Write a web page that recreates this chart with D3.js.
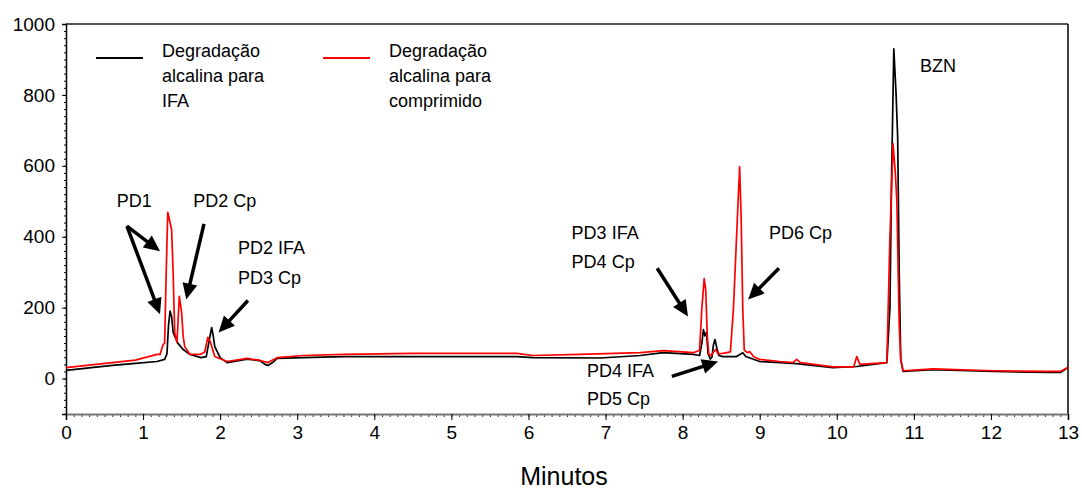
<!DOCTYPE html>
<html>
<head>
<meta charset="utf-8">
<script src="https://cdn.jsdelivr.net/npm/d3@7"></script>
<style>
    body { margin: 0; background: #fff; }
    svg text { font-family: "Liberation Sans", Arial, sans-serif; fill: #000; }
</style>
</head>
<body>
<div id="chart"></div>
<script>
'use strict';

// time (min) / response for the IFA run (black)
const ifaTime = [0, 0.3, 0.6, 0.9, 1.18, 1.28, 1.31, 1.33, 1.35, 1.37, 1.39, 1.45, 1.52, 1.61, 1.75, 1.82, 1.86, 1.89, 1.91, 1.93,
    2.0, 2.09, 2.35, 2.52, 2.58, 2.62, 2.68, 2.74, 3.08, 3.6, 4.5, 5.85, 6.06, 6.93, 7.45, 7.75, 8.14, 8.22, 8.25, 8.27,
    8.29, 8.31, 8.33, 8.36, 8.38, 8.40, 8.42, 8.44, 8.47, 8.52, 8.7, 8.78, 8.82, 9.0, 9.26, 9.48, 9.95, 10.26, 10.65, 10.69,
    10.71, 10.74, 10.77, 10.79, 10.81, 10.83, 10.86, 11.25, 12.03, 12.73, 12.9, 13.0];
const ifaValue = [23, 30, 37, 43, 48, 54, 70, 150, 190, 175, 130, 100, 82, 68, 59, 62, 110, 144, 120, 90,
    59, 45, 55, 50, 40, 37, 45, 57, 59, 62, 62, 62, 59, 58, 65, 73, 68, 65, 100, 138,
    120, 130, 70, 55, 60, 95, 110, 90, 65, 62, 62, 73, 62, 48, 45, 42, 31, 34, 45, 200,
    554, 930, 800, 681, 300, 54, 20, 25, 20, 17, 17, 31];

// time (min) / response for the comprimido run (red)
const cpTime = [0, 0.3, 0.6, 0.9, 1.18, 1.22, 1.26, 1.28, 1.30, 1.32, 1.35, 1.37, 1.39, 1.41, 1.44, 1.47, 1.50, 1.52, 1.54, 1.61,
    1.74, 1.80, 1.84, 1.87, 1.93, 2.09, 2.35, 2.52, 2.62, 2.74, 3.08, 3.6, 4.5, 5.85, 6.06, 6.67, 7.45, 7.75, 8.14, 8.22,
    8.25, 8.28, 8.30, 8.32, 8.34, 8.37, 8.40, 8.43, 8.46, 8.52, 8.62, 8.66, 8.72, 8.74, 8.76, 8.78, 8.80, 8.84, 8.87, 8.92,
    9.0, 9.26, 9.43, 9.48, 9.53, 9.95, 10.22, 10.26, 10.30, 10.65, 10.69, 10.73, 10.76, 10.78, 10.81, 10.83, 10.86, 11.25, 12.03, 12.73,
    12.9, 13.0];
const cpValue = [31, 38, 45, 52, 68, 68, 96, 100, 300, 469, 440, 421, 300, 130, 102, 232, 187, 120, 90, 68,
    68, 75, 116, 105, 62, 48, 57, 51, 45, 59, 65, 68, 71, 71, 65, 68, 73, 79, 73, 80,
    200, 282, 250, 120, 68, 65, 75, 82, 70, 71, 75, 200, 500, 597, 450, 200, 80, 73, 76, 62,
    54, 48, 45, 54, 45, 33, 33, 62, 40, 45, 401, 662, 580, 497, 150, 54, 22, 27, 22, 20,
    20, 31];

// axis ticks
const xTicks = d3.range(0, 14, 1);
const yTicks = [0, 200, 400, 600, 800, 1000];

// legend entries
const legendNames = [['Degradação', 'alcalina para', 'IFA'], ['Degradação', 'alcalina para', 'comprimido']];
const legendColors = ['#000000', '#ff0000'];

// peak labels (anchor in minutes / response)
const labelText = ['PD1', 'PD2 Cp', 'PD2 IFA', 'PD3 Cp', 'PD3 IFA', 'PD4 Cp', 'PD6 Cp', 'PD4 IFA', 'PD5 Cp', 'BZN'];
const labelTime = [0.66, 1.65, 2.23, 2.23, 6.56, 6.56, 9.12, 6.76, 6.76, 11.08];
const labelValue = [484, 484, 350, 266, 395, 311, 395, 5, -74, 866];

// arrows: tail -> tip
const arrowFrom = [[0.79, 430], [0.79, 430], [1.79, 436], [2.36, 220], [7.67, 311], [9.25, 311], [7.86, 6]];
const arrowTo = [[1.22, 359], [1.22, 181], [1.56, 223], [1.98, 130], [8.07, 175], [8.85, 223], [8.46, 48]];

class Chromatogram {

    constructor(_ref) {
        this.parent = _ref;

        // zip series
        this.ifa = ifaTime.map((t, i) => ({t: t, v: ifaValue[i]}));
        this.cp = cpTime.map((t, i) => ({t: t, v: cpValue[i]}));

        this.initVis();
    }

    initVis() {
        const vis = this;

        // Config
        vis.w = 1082;
        vis.h = 489;
        vis.margin = {top: 24, right: 14, bottom: 75, left: 66};
        vis.gW = vis.w - (vis.margin.left + vis.margin.right);
        vis.gH = vis.h - (vis.margin.top + vis.margin.bottom);

        vis.svg = d3.select(`#${vis.parent}`)
            .append('svg')
            .attr('width', vis.w)
            .attr('height', vis.h);

        vis.g = vis.svg.append('g')
            .attr('transform', `translate(${vis.margin.left},${vis.margin.top})`);

        // Scales
        vis.xScale = d3.scaleLinear()
            .domain([0, 13])
            .range([0, vis.gW]);

        vis.yScale = d3.scaleLinear()
            .domain([-100, 1000])
            .range([vis.gH, 0]);

        vis.drawAxes();
        vis.updateVis();
        vis.drawLegend();
        vis.drawNotes();
    }

    drawAxes() {
        const vis = this;

        // top + right frame
        vis.g.append('line')
            .attr('x1', 0).attr('x2', vis.gW)
            .attr('y1', 0).attr('y2', 0)
            .attr('stroke', '#555').attr('stroke-width', 2);
        vis.g.append('line')
            .attr('x1', vis.gW).attr('x2', vis.gW)
            .attr('y1', 0).attr('y2', vis.gH)
            .attr('stroke', '#000').attr('stroke-width', 1.5);

        // minor ticks x
        vis.g.append('g')
            .attr('transform', `translate(0,${vis.gH})`)
            .call(d3.axisBottom(vis.xScale).tickValues(d3.range(0, 131).map(d => d / 10)).tickSize(3).tickFormat(''))
            .call(g => g.select('.domain').remove())
            .selectAll('line').attr('stroke', '#333');

        // major x axis
        vis.xAxisG = vis.g.append('g')
            .attr('transform', `translate(0,${vis.gH})`)
            .call(d3.axisBottom(vis.xScale).tickValues(xTicks).tickSize(6).tickPadding(6).tickFormat(d3.format('d')));
        vis.xAxisG.select('.domain').attr('stroke', '#777').attr('stroke-width', 2);
        vis.xAxisG.selectAll('text').attr('font-size', 19);

        // minor ticks y
        vis.g.append('g')
            .call(d3.axisLeft(vis.yScale).tickValues(d3.range(-100, 1001, 20)).tickSize(2).tickFormat(''))
            .call(g => g.select('.domain').remove());

        // major y axis
        vis.yAxisG = vis.g.append('g')
            .call(d3.axisLeft(vis.yScale).tickValues(yTicks).tickSize(4).tickPadding(7).tickFormat(d3.format('d')));
        vis.yAxisG.select('.domain').attr('stroke', '#000').attr('stroke-width', 1.5);
        vis.yAxisG.selectAll('text').attr('font-size', 19);

        // axis title
        vis.g.append('text')
            .attr('x', vis.gW / 2 - 3)
            .attr('y', vis.gH + 71)
            .attr('text-anchor', 'middle')
            .attr('font-size', 25)
            .text('Minutos');
    }

    updateVis() {
        const vis = this;

        vis.lineMaker = d3.line()
            .x(d => vis.xScale(d.t))
            .y(d => vis.yScale(d.v));

        vis.g.selectAll('.trace')
            .data([vis.ifa, vis.cp])
            .join('path')
            .attr('class', 'trace')
            .attr('fill', 'none')
            .attr('stroke', (d, i) => legendColors[i])
            .attr('stroke-width', 1.7)
            .attr('stroke-linejoin', 'round')
            .attr('d', vis.lineMaker);
    }

    drawLegend() {
        const vis = this;

        const legG = vis.svg.append('g')
            .attr('class', 'legend');

        legendNames.forEach((lines, i) => {
            const x0 = 96 + i * 227;
            legG.append('line')
                .attr('x1', x0).attr('x2', x0 + 47)
                .attr('y1', 58).attr('y2', 58)
                .attr('stroke', legendColors[i])
                .attr('stroke-width', 2);
            lines.forEach((s, j) => {
                legG.append('text')
                    .attr('x', x0 + 66)
                    .attr('y', 57 + j * 25)
                    .attr('font-size', 18)
                    .text(s);
            });
        });
    }

    drawNotes() {
        const vis = this;

        // labels
        vis.g.selectAll('.peakLabel')
            .data(labelText)
            .join('text')
            .attr('class', 'peakLabel')
            .attr('x', (d, i) => vis.xScale(labelTime[i]))
            .attr('y', (d, i) => vis.yScale(labelValue[i]))
            .attr('font-size', 18)
            .text(d => d);

        // arrows
        const headLen = 16;
        const headW = 7.5;
        arrowFrom.forEach((a, i) => {
            const x0 = vis.xScale(a[0]), y0 = vis.yScale(a[1]);
            const x1 = vis.xScale(arrowTo[i][0]), y1 = vis.yScale(arrowTo[i][1]);
            const len = Math.hypot(x1 - x0, y1 - y0);
            const ux = (x1 - x0) / len, uy = (y1 - y0) / len;
            const bx = x1 - ux * headLen, by = y1 - uy * headLen;

            vis.g.append('line')
                .attr('x1', x0).attr('y1', y0)
                .attr('x2', bx + ux * 2).attr('y2', by + uy * 2)
                .attr('stroke', '#000')
                .attr('stroke-width', 3.5);

            vis.g.append('path')
                .attr('d', `M${x1},${y1}L${bx - uy * headW},${by + ux * headW}L${bx + uy * headW},${by - ux * headW}Z`)
                .attr('fill', '#000');
        });
    }
}

new Chromatogram('chart');
</script>
</body>
</html>
